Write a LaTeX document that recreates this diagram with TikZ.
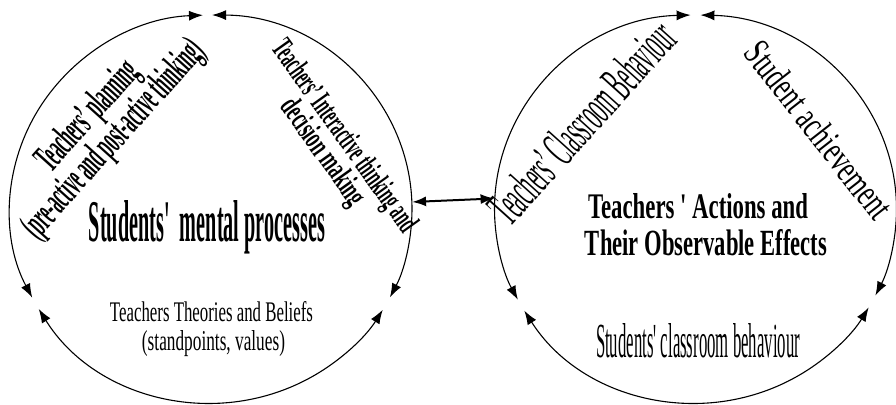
\documentclass[tikz,border=0pt]{standalone}
\usepackage{fontspec}
\setmainfont{Liberation Serif}
\usetikzlibrary{arrows.meta,shapes.geometric,calc}
\begin{document}
\begin{tikzpicture}[x=1pt,y=1pt,
  tip/.tip={Latex[length=14pt,width=10pt]},
  ring/.style={line width=1.1pt, tip-tip},
  link/.style={line width=2pt, tip-tip},
  lbl/.style={inner sep=0pt, outer sep=0pt},
  circ/.style={ellipse, minimum width=402pt, minimum height=388pt, inner sep=0pt, draw=none}]
\useasboundingbox (0,0) rectangle (896,404);
% circles as nodes
\node[circ] (L) at (211,195) {};
\node[circ] (R) at (695.5,195) {};
% left circle arcs
\draw[ring] ($(L.center)+(92.3:201 and 194)$) arc[start angle=92.3, end angle=207.2, x radius=201, y radius=194];
\draw[ring] ($(L.center)+(89.7:201 and 194)$) arc[start angle=89.7, end angle=-27.1, x radius=201, y radius=194];
\draw[ring] ($(L.center)+(211:201 and 194)$) arc[start angle=211, end angle=328.7, x radius=201, y radius=194];
% right circle arcs
\draw[ring] ($(R.center)+(91.4:201 and 194)$) arc[start angle=91.4, end angle=207.9, x radius=201, y radius=194];
\draw[ring] ($(R.center)+(88.6:201 and 194)$) arc[start angle=88.6, end angle=-26.5, x radius=201, y radius=194];
\draw[ring] ($(R.center)+(211.6:201 and 194)$) arc[start angle=211.6, end angle=329.5, x radius=201, y radius=194];
% connector
\draw[link] (L.2.3) -- (R.177.7);
% left texts
\node[lbl, rotate=48] (tp1) at (89,287) {\resizebox{134pt}{28pt}{\bfseries Teachers’ planning}};
\node[lbl, rotate=48] (tp2) at (115,264) {\resizebox{252pt}{28pt}{\bfseries (pre-active and post-active thinking)}};
\node[lbl, rotate=-54.5] (ti1) at (343,267) {\resizebox{228pt}{22pt}{\bfseries Teachers’ Interactive thinking and}};
\node[lbl, rotate=-54.5] (ti2) at (322,251) {\resizebox{124pt}{22pt}{\bfseries decision making}};
\node[lbl, anchor=base] (smp) at (207,162) {\resizebox{236pt}{41pt}{\bfseries Students\textquotesingle\ \ mental processes}};
\node[lbl, anchor=base] (ttb1) at (211.5,82) {\resizebox{203pt}{20pt}{Teachers Theories and Beliefs}};
\node[lbl, anchor=base] (ttb2) at (213.5,54) {\resizebox{143pt}{20pt}{(standpoints, values)}};
% right texts
\node[lbl, rotate=48] (tcb) at (582,282) {\resizebox{252pt}{36pt}{Teachers’ Classroom Behaviour}};
\node[lbl, rotate=-52] (sa) at (819,274) {\resizebox{214pt}{27pt}{Student achievement}};
\node[lbl, anchor=base] (ta1) at (698,185) {\resizebox{220pt}{25pt}{\bfseries Teachers \textquotesingle\ Actions and}};
\node[lbl, anchor=base] (ta2) at (706,148) {\resizebox{242pt}{26pt}{\bfseries Their Observable Effects}};
\node[lbl, anchor=base] (scb) at (698,47) {\resizebox{204pt}{34pt}{Students\textquotesingle\ classroom behaviour}};
\end{tikzpicture}
\end{document}
